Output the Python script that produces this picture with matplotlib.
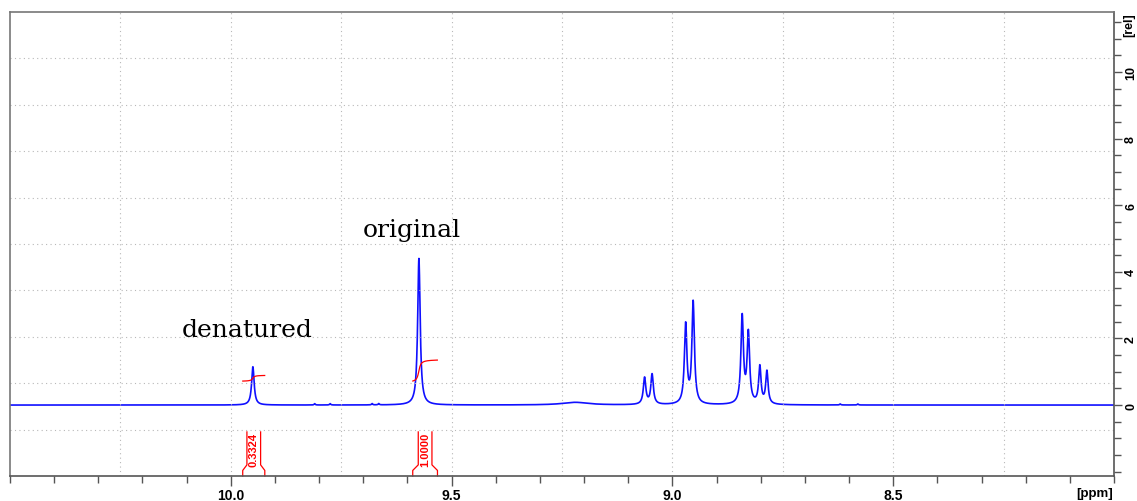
import numpy as np
import matplotlib.pyplot as plt
from matplotlib.ticker import MultipleLocator, FixedLocator
import matplotlib.transforms as mtransforms

# peak list (ppm, height, half width)
peak_ppm = [9.950, 9.574, 9.063, 9.046, 8.970, 8.953, 8.842, 8.828, 8.802, 8.786,
            9.220, 9.810, 9.775, 9.680, 9.665, 8.580, 8.620]
peak_height = [1.15, 4.40, 0.80, 0.90, 2.38, 3.05, 2.62, 2.10, 1.12, 0.98,
               0.08, 0.04, 0.04, 0.04, 0.04, 0.03, 0.03]
peak_width = [0.0034, 0.0034, 0.0034, 0.0034, 0.0034, 0.0034, 0.0034, 0.0034, 0.0032, 0.0032,
              0.0350, 0.0015, 0.0015, 0.0015, 0.0015, 0.0015, 0.0015]

# integrals (ppm range) and labels
integral_ranges = [(9.973, 9.923), (9.588, 9.532)]
integral_labels = ['0.3324', '1.0000']

x_ticks = [10.0, 9.5, 9.0, 8.5]
y_ticks = [0, 2, 4, 6, 8, 10]

ppm = np.linspace(10.5, 8.0, 6000)
spec = np.zeros_like(ppm)
for c, h, w in zip(peak_ppm, peak_height, peak_width):
    spec += h / (1 + ((ppm - c) / w) ** 2)

fig = plt.figure(figsize=(11.37, 5.02), dpi=100)
ax = fig.add_axes([10 / 1137, 25 / 502, 1104 / 1137, 464 / 502])

ax.plot(ppm, spec, color='#1010ff', lw=1.2)
ax.set_xlim(10.5, 8.0)
ax.set_ylim(-2.13, 11.8)

# grid: 10 equal divisions of the box
for k in range(1, 10):
    ax.axvline(10.5 - 0.25 * k, color='#b8b8b8', lw=0.8, ls=(0, (1, 3)))
    ax.axhline(-2.13 + (11.8 + 2.13) / 10 * k, color='#b8b8b8', lw=0.8, ls=(0, (1, 3)))

# integral curves
ref_area = None
for (a, b), lab in zip(integral_ranges[::-1], integral_labels[::-1]):
    m = (ppm <= a) & (ppm >= b)
    cum = np.cumsum(spec[m])
    if ref_area is None:
        ref_area = cum[-1]
    ax.plot(ppm[m], 0.72 + 0.63 * cum / ref_area, color='red', lw=0.9)

# integral label brackets
trans = mtransforms.blended_transform_factory(ax.transData, ax.transAxes)
for (a, b), lab in zip(integral_ranges, integral_labels):
    mid = (a + b) / 2
    hw = 0.0155
    ys = [0, 0.012, 0.024, 0.095]
    ax.plot([a, a, mid + hw, mid + hw], ys, color='red', lw=0.9, transform=trans, clip_on=False)
    ax.plot([b, b, mid - hw, mid - hw], ys, color='red', lw=0.9, transform=trans, clip_on=False)
    ax.text(mid, 0.058, lab, rotation=90, color='red', fontsize=8, fontweight='bold',
            ha='center', va='center', transform=trans, family='Liberation Sans')

ax.text(9.963, 2.07, 'denatured', family='DejaVu Serif', fontsize=18, ha='center', va='baseline')
ax.text(9.589, 5.07, 'original', family='DejaVu Serif', fontsize=18, ha='center', va='baseline')

# axes styling
for s in ax.spines.values():
    s.set_color('#777777')
    s.set_linewidth(1.2)
ax.spines['bottom'].set_color('#555555')
ax.spines['right'].set_color('#555555')

ax.xaxis.set_major_locator(FixedLocator(x_ticks))
ax.xaxis.set_minor_locator(MultipleLocator(0.1))
ax.yaxis.set_major_locator(FixedLocator(y_ticks))
ax.yaxis.set_minor_locator(MultipleLocator(0.5))
ax.yaxis.tick_right()
ax.tick_params(axis='x', which='major', direction='out', length=7, width=1, color='#555555',
               labelsize=10, pad=2)
ax.tick_params(axis='x', which='minor', direction='out', length=5, width=1, color='#555555')
ax.tick_params(axis='y', which='major', direction='out', length=6, width=1, color='#555555',
               labelsize=9, labelrotation=90, pad=2)
ax.tick_params(axis='y', which='minor', direction='out', length=5, width=1, color='#555555')
ax.xaxis.set_major_formatter(plt.FuncFormatter(lambda v, p: f'{v:.1f}'))
ax.yaxis.set_major_formatter(plt.FuncFormatter(lambda v, p: f'{v:.0f}'))
for lbl in ax.get_xticklabels() + ax.get_yticklabels():
    lbl.set_fontweight('bold')
    lbl.set_family('Liberation Sans')
for lbl in ax.get_yticklabels():
    lbl.set_va('center')

fig.text(1095 / 1137, 1 - 494 / 502, '[ppm]', fontsize=9.5, fontweight='bold', family='Liberation Sans',
         ha='center', va='center')
fig.text(1129 / 1137, 1 - 25 / 502, '[rel]', fontsize=9, fontweight='bold', family='Liberation Sans',
         ha='center', va='center', rotation=90)

fig.savefig('out.png', dpi=100)
